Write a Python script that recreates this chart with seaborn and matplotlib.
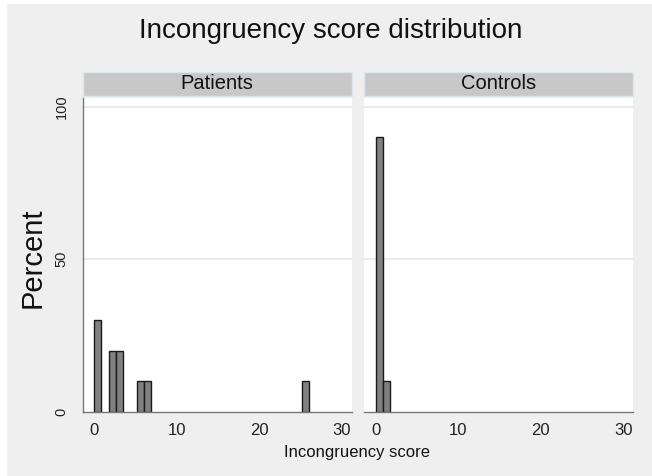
import numpy as np
import pandas as pd
import matplotlib
matplotlib.use("Agg")
import matplotlib.pyplot as plt
from matplotlib.patches import Rectangle
import seaborn as sns

# ---- data ----
groups = ["Patients", "Controls"]
patients_scores = [0, 2, 3, 5.5, 6.5, 25.5]
patients_pct = [30, 20, 20, 10, 10, 10]
controls_scores = [0, 1]
controls_pct = [90, 10]
x_ticks = [0, 10, 20, 30]
y_ticks = [0, 50, 100]
title = "Incongruency score distribution"
xlabel = "Incongruency score"
ylabel = "Percent"

df = pd.DataFrame({
    "group": ["Patients"] * len(patients_scores) + ["Controls"] * len(controls_scores),
    "score": patients_scores + controls_scores,
    "pct": patients_pct + controls_pct,
})

sns.set_style("white")
plt.rcParams["font.family"] = ["Liberation Sans", "DejaVu Sans"]

W, H = 652, 476
fig = plt.figure(figsize=(W / 100, H / 100), dpi=100, facecolor="white")
# light gray page background with thin white border
fig.patches.append(Rectangle((7 / W, 0), 1, 1 - 4 / H, transform=fig.transFigure,
                             facecolor="#efefef", edgecolor="none", zorder=-10))

def fx(px):
    return px / W

def fy(py):
    return 1 - py / H

top_px, bot_px = 97.7, 411.7
panels = [(82.7, 351.7), (364.0, 633.3)]
strip_top, strip_bot = 71.7, 96.0

for i, (g, (x0, x1)) in enumerate(zip(groups, panels)):
    ax = fig.add_axes([fx(x0), fy(bot_px), fx(x1 - x0), (bot_px - top_px) / H])
    ax.set_facecolor("white")
    sub = df[df["group"] == g]
    for yv in [50, 100]:
        ax.axhline(yv, color="#ebebeb", lw=1.5, zorder=0)
    sns.histplot(data=sub, x="score", weights="pct", bins=30, binrange=(0, 26), ax=ax,
                 color="#808080", edgecolor="#1a1a1a", linewidth=1.0, alpha=1.0)
    # drop empty bins (zero height) so their outlines don't draw on the axis
    for p in list(ax.patches):
        if p.get_height() == 0:
            p.remove()
    ax.set_xlim(-1.4, 31.2)
    ax.set_ylim(0, 103)
    ax.set_xticks(x_ticks)
    ax.set_xticklabels([str(t) for t in x_ticks], fontsize=12, color="#222222")
    ax.set_xlabel("")
    ax.set_ylabel("")
    for s in ["top", "right"]:
        ax.spines[s].set_visible(False)
    ax.spines["bottom"].set_color("#777777")
    ax.spines["bottom"].set_linewidth(1.0)
    ax.tick_params(axis="x", direction="out", length=5, width=0.8, color="#777777", pad=3)
    if i == 0:
        ax.spines["left"].set_color("#777777")
        ax.spines["left"].set_linewidth(1.0)
        ax.set_yticks(y_ticks)
        ax.set_yticklabels([str(t) for t in y_ticks], fontsize=10.5, rotation=90,
                           va="center", color="#222222")
        ax.tick_params(axis="y", direction="out", length=5, width=0.8, color="#777777", pad=5)
    else:
        ax.spines["left"].set_visible(False)
        ax.set_yticks([])
    # strip
    fig.patches.append(Rectangle((fx(x0), fy(strip_bot)), fx(x1 - x0), (strip_bot - strip_top) / H,
                                 transform=fig.transFigure, facecolor="#c8c8c8",
                                 edgecolor="#dde6ea", linewidth=1.0, zorder=1))
    fig.text(fx((x0 + x1) / 2), fy((strip_top + strip_bot) / 2), g, ha="center", va="center",
             fontsize=14.5, color="#111111")

fig.text(fx(331), fy(31), title, ha="center", va="center", fontsize=20, color="#111111")
fig.text(fx(33), fy(258), ylabel, ha="center", va="center", rotation=90, fontsize=21,
         color="#111111")
fig.text(fx(357), fy(452), xlabel, ha="center", va="center", fontsize=12, color="#111111")

fig.savefig("out.png", dpi=100, facecolor=fig.get_facecolor())
